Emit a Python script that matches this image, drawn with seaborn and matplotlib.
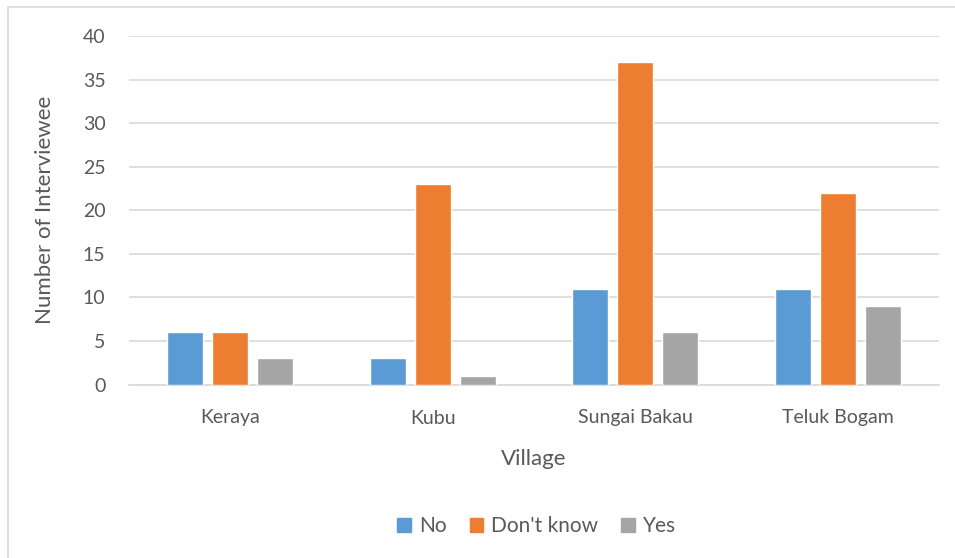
import matplotlib
matplotlib.use("Agg")
import matplotlib.pyplot as plt
import matplotlib.patches as mpatches
import pandas as pd
import seaborn as sns

villages = ["Keraya", "Kubu", "Sungai Bakau", "Teluk Bogam"]
answers = ["No", "Don't know", "Yes"]
no_counts = [6, 3, 11, 11]
dont_know_counts = [6, 23, 37, 22]
yes_counts = [3, 1, 6, 9]
y_ticks = [0, 5, 10, 15, 20, 25, 30, 35, 40]

colors = ["#5B9BD5", "#ED7D31", "#A5A5A5"]
text_color = "#595959"
grid_color = "#D9D9D9"

df = pd.DataFrame({
    "Village": villages * 3,
    "Answer": [a for a in answers for _ in villages],
    "Count": no_counts + dont_know_counts + yes_counts,
})

sns.set_theme(style="white")
plt.rcParams["font.family"] = ["Lato", "DejaVu Sans"]

fig = plt.figure(figsize=(9.55, 5.58), dpi=100)
ax = fig.add_axes([129 / 955, 1 - 384.5 / 558, (939 - 129) / 955, (384.5 - 36) / 558])

sns.barplot(data=df, x="Village", y="Count", hue="Answer", hue_order=answers,
            palette=colors, width=0.667, gap=0.2, saturation=1,
            errorbar=None, ax=ax, legend=False, zorder=3)

ax.set_ylim(0, 40)
ax.set_xlim(-0.5, 3.5)
ax.set_yticks(y_ticks)
ax.yaxis.grid(True, color=grid_color, linewidth=1.2, zorder=0)
ax.set_axisbelow(True)
for side in ["top", "right", "left"]:
    ax.spines[side].set_visible(False)
ax.spines["bottom"].set_color(grid_color)
ax.spines["bottom"].set_linewidth(1.2)
ax.tick_params(axis="both", length=0, labelsize=14, colors=text_color)
ax.tick_params(axis="y", pad=17)
ax.tick_params(axis="x", pad=18)
ax.set_xlabel("Village", fontsize=16, color=text_color, labelpad=16)
ax.set_ylabel("Number of Interviewee", fontsize=16, color=text_color, labelpad=20)

handles = [mpatches.Patch(color=c, label=a) for c, a in zip(colors, answers)]
fig.legend(handles=handles, loc="center", bbox_to_anchor=(0.562, 1 - 526 / 558),
           ncol=3, frameon=False, fontsize=15, labelcolor=text_color,
           handlelength=0.65, handleheight=0.65, handletextpad=0.4, columnspacing=1.1)

# chart frame
fig.add_artist(mpatches.Rectangle((8 / 955, -0.1), 1.1, 1 - 7 / 558 + 0.1,
                                  transform=fig.transFigure, fill=False,
                                  edgecolor="#D9D9D9", linewidth=1.2))

fig.savefig("out.png", dpi=100, facecolor="white")
